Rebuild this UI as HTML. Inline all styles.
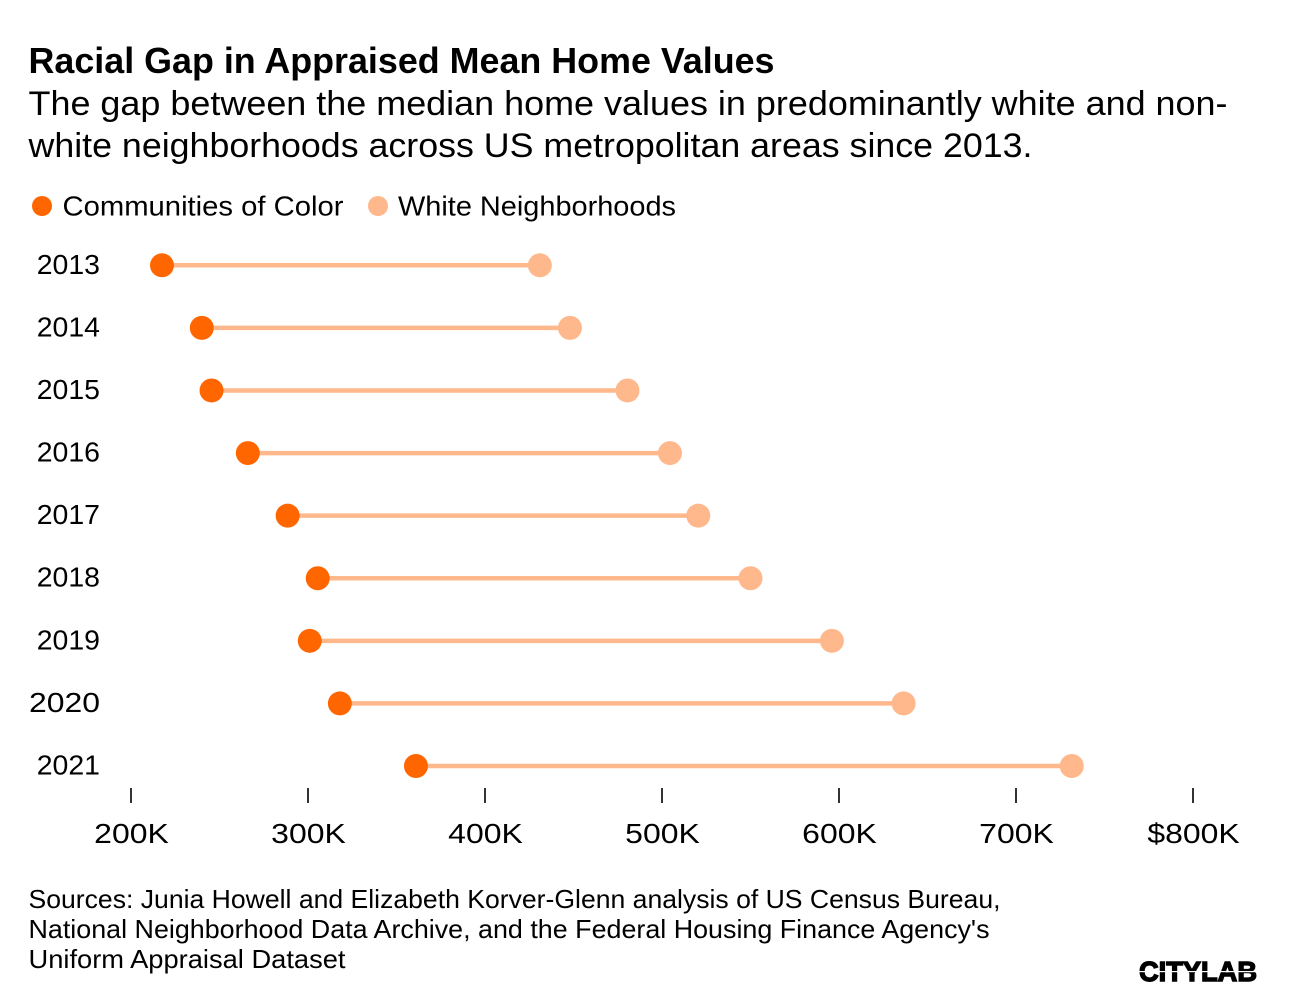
<!DOCTYPE html>
<html>
<head>
<meta charset="utf-8">
<style>
html,body{margin:0;padding:0;background:#fff;width:1296px;height:998px;overflow:hidden}
svg{display:block}
text{font-family:"Liberation Sans",sans-serif;fill:#000}
</style>
</head>
<body>
<svg id="chart" width="1296" height="998" viewBox="0 0 1296 998" xmlns="http://www.w3.org/2000/svg">
  <text x="28.500" y="73" font-size="36.500" font-weight="700" textLength="746" lengthAdjust="spacingAndGlyphs">Racial Gap in Appraised Mean Home Values</text>
  <text x="28.500" y="115" font-size="34.500" textLength="1199" lengthAdjust="spacingAndGlyphs">The gap between the median home values in predominantly white and non-</text>
  <text x="28.500" y="157" font-size="34.500" textLength="1004" lengthAdjust="spacingAndGlyphs">white neighborhoods across US metropolitan areas since 2013.</text>

  <circle cx="42" cy="206" r="10" fill="#ff6600"/>
  <text x="62.500" y="215.500" font-size="28" textLength="281" lengthAdjust="spacingAndGlyphs">Communities of Color</text>
  <circle cx="378" cy="206" r="10" fill="#ffb88c"/>
  <text x="398" y="215.500" font-size="28" textLength="278" lengthAdjust="spacingAndGlyphs">White Neighborhoods</text>

  <g id="plot"></g>
  <g id="axis"></g>

  <text x="28.500" y="908" font-size="26" textLength="972" lengthAdjust="spacingAndGlyphs">Sources: Junia Howell and Elizabeth Korver-Glenn analysis of US Census Bureau,</text>
  <text x="28.500" y="938" font-size="26" textLength="961" lengthAdjust="spacingAndGlyphs">National Neighborhood Data Archive, and the Federal Housing Finance Agency's</text>
  <text x="28.500" y="968" font-size="26" textLength="317" lengthAdjust="spacingAndGlyphs">Uniform Appraisal Dataset</text>

  <g>
    <text x="1139" y="981" font-size="28" font-weight="700" stroke="#000" stroke-width="1.400" textLength="118" lengthAdjust="spacingAndGlyphs">CITYLAB</text>
    <rect x="1136" y="971" width="124" height="1.200" fill="#fff"/>
  </g>
</svg>
<script>
const years = ["2013","2014","2015","2016","2017","2018","2019","2020","2021"];
const colorValues = [217.5,240,245.5,266,288.5,305.5,301,318,361];
const whiteValues = [431,448,480.5,504.5,520.5,550,596,636.5,731.5];
const tickValues = [200,300,400,500,600,700,800];
const tickLabels = ["200K","300K","400K","500K","600K","700K","$800K"];

const NS = "http://www.w3.org/2000/svg";
const plot = document.getElementById("plot");
const axis = document.getElementById("axis");
function xScale(v){ return 131 + (v - 200) * (1193 - 131) / 600; }
function yScale(i){ return 265.3 + i * (766 - 265.3) / (years.length - 1); }
function make(tag, attrs, parent){
  const el = document.createElementNS(NS, tag);
  for (const k in attrs) el.setAttribute(k, attrs[k]);
  parent.appendChild(el);
  return el;
}
function stretch(el, factor){
  el.setAttribute("textLength", (el.getComputedTextLength() * factor).toFixed(1));
  el.setAttribute("lengthAdjust", "spacingAndGlyphs");
}
function yearWidth(s){
  let w = 0;
  for (const c of s) w += (c === "1") ? 10 : 17.75;
  return w;
}

years.forEach(function(year, i){
  const y = yScale(i);
  const label = make("text", {x: 100, y: y + 8.5, "font-size": 28, "text-anchor": "end"}, plot);
  label.textContent = year;
  
  
  label.setAttribute("textLength", yearWidth(year));
  label.setAttribute("lengthAdjust", "spacingAndGlyphs");

  const line = make("line", {x1: xScale(colorValues[i]), x2: xScale(whiteValues[i]), y1: y, y2: y, stroke: "#ffb88c", "stroke-width": 4.5}, plot);
  
  

  const white = make("circle", {cx: xScale(whiteValues[i]), cy: y, r: 12, fill: "#ffb88c"}, plot);
  
  

  const color = make("circle", {cx: xScale(colorValues[i]), cy: y, r: 12, fill: "#ff6600"}, plot);
  
  
});

tickValues.forEach(function(v, i){
  const x = xScale(v);
  const tick = make("line", {x1: x, x2: x, y1: 788, y2: 803, stroke: "#333", "stroke-width": 2}, axis);
  
  

  const label = make("text", {x: x + 0.5, y: 843, "font-size": 28, "text-anchor": "middle"}, axis);
  label.textContent = tickLabels[i];
  
  
  stretch(label, 1.14);
});
</script>
</body>
</html>
